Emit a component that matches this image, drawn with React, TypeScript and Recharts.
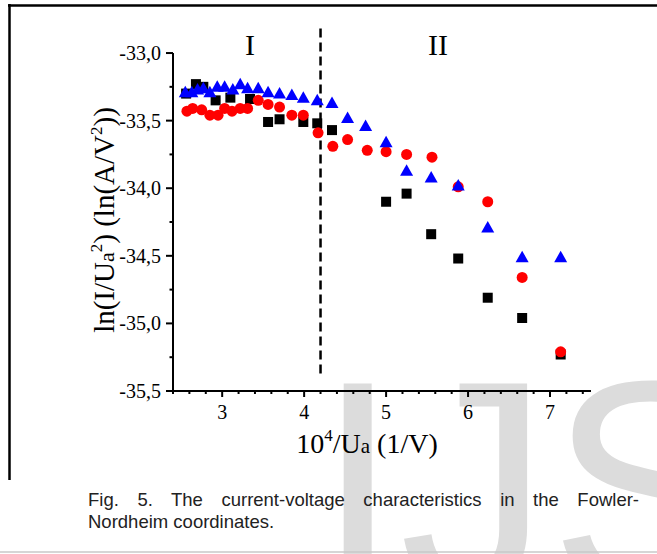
import { ReferenceLine, Scatter, ScatterChart, XAxis, YAxis } from "recharts";

// black squares
const blackX = [2.56, 2.68, 2.77, 2.92, 3.1, 3.34, 3.56, 3.7, 3.99, 4.16, 4.34, 5.0, 5.25, 5.55, 5.88, 6.24, 6.66, 7.13];
const blackY = [-33.3, -33.23, -33.25, -33.35, -33.33, -33.34, -33.51, -33.49, -33.51, -33.52, -33.57, -34.1, -34.04, -34.34, -34.52, -34.81, -34.96, -35.23];

// red circles
const redX = [2.57, 2.64, 2.75, 2.85, 2.95, 3.03, 3.12, 3.22, 3.31, 3.44, 3.56, 3.7, 3.85, 3.99, 4.17, 4.35, 4.53, 4.77, 5.0, 5.25, 5.56, 5.88, 6.24, 6.66, 7.13];
const redY = [-33.43, -33.41, -33.42, -33.46, -33.46, -33.41, -33.43, -33.41, -33.41, -33.35, -33.38, -33.4, -33.46, -33.46, -33.59, -33.69, -33.64, -33.72, -33.73, -33.75, -33.77, -33.99, -34.1, -34.66, -35.21];

// blue triangles
const blueX = [2.55, 2.63, 2.7, 2.77, 2.85, 2.94, 3.03, 3.13, 3.22, 3.31, 3.44, 3.56, 3.7, 3.85, 3.99, 4.16, 4.34, 4.53, 4.75, 5.0, 5.25, 5.55, 5.88, 6.24, 6.66, 7.13];
const blueY = [-33.29, -33.29, -33.27, -33.26, -33.29, -33.25, -33.25, -33.27, -33.23, -33.26, -33.26, -33.29, -33.3, -33.31, -33.33, -33.35, -33.37, -33.48, -33.54, -33.66, -33.87, -33.92, -33.98, -34.29, -34.51, -34.51];

const xTicks = [2.4, 2.6, 2.8, 3, 3.2, 3.4, 3.6, 3.8, 4, 4.2, 4.4, 4.6, 4.8, 5, 5.2, 5.4, 5.6, 5.8, 6, 6.2, 6.4, 6.6, 6.8, 7, 7.2, 7.4];
const yTicks = [-35.5, -35.25, -35, -34.75, -34.5, -34.25, -34, -33.75, -33.5, -33.25, -33];

const SERIF = "'Liberation Serif', 'Times New Roman', serif";
const SANS = "'Liberation Sans', Arial, sans-serif";

const zip = (xs: number[], ys: number[]) => xs.map((x, i) => ({ x, y: ys[i] }));

const square = (p: any) => <rect x={p.cx - 5} y={p.cy - 5} width={10} height={10} fill="#000" />;
const dot = (p: any) => <circle cx={p.cx} cy={p.cy} r={5.5} fill="#ff0000" />;
const tri = (p: any) => (
  <polygon
    points={`${p.cx},${p.cy - 6.5} ${p.cx - 6.5},${p.cy + 5} ${p.cx + 6.5},${p.cy + 5}`}
    fill="#0000ff"
  />
);

function XTick({ x, y, payload }: any) {
  const v = payload.value;
  const major = Math.abs(v - Math.round(v)) < 1e-6;
  return (
    <g>
      <line x1={x} x2={x} y1={y} y2={y + (major ? 6 : 3)} stroke="#000" strokeWidth={2} />
      {major && (
        <text x={x} y={y + 28} textAnchor="middle" fontFamily={SERIF} fontSize={20} fill="#000">
          {v}
        </text>
      )}
    </g>
  );
}

function YTick({ x, y, payload }: any) {
  const v = payload.value;
  const major = Math.abs(v * 2 - Math.round(v * 2)) < 1e-6;
  return (
    <g>
      <line x1={x - (major ? 7 : 3.5)} x2={x} y1={y} y2={y} stroke="#000" strokeWidth={2} />
      {major && (
        <text x={x - 12} y={y + 7} textAnchor="end" fontFamily={SERIF} fontSize={20} fill="#000">
          {v.toFixed(1).replace(".", ",")}
        </text>
      )}
    </g>
  );
}

export default function App() {
  return (
    <div style={{ position: "absolute", left: 0, top: 0, width: 657, height: 554, background: "#fff", overflow: "hidden" }}>
      <svg width={657} height={554} style={{ position: "absolute", left: 0, top: 0 }}>
        <text x={316} y={590} fontFamily={SANS} fontSize={300} fill="#dcdcdc">
          IJS
        </text>
        <line x1={8} x2={657} y1={5.5} y2={5.5} stroke="#000" strokeWidth={2.5} />
        <line x1={9.5} x2={9.5} y1={4} y2={480} stroke="#000" strokeWidth={2.5} />
        <line x1={0} x2={657} y1={552} y2={552} stroke="#c8c8c8" strokeWidth={1.5} />
        <text x={250} y={55} textAnchor="middle" fontFamily={SERIF} fontSize={30}>
          I
        </text>
        <text x={438} y={55} textAnchor="middle" fontFamily={SERIF} fontSize={30}>
          II
        </text>
        <text x={367} y={453} textAnchor="middle" fontFamily={SERIF} fontSize={28}>
          10<tspan fontSize={17} dy={-12}>4</tspan>
          <tspan dy={12}>/U</tspan>
          <tspan fontSize={21}>a</tspan> (1/V)
        </text>
        <text
          transform="translate(114,220) rotate(-90)"
          textAnchor="middle"
          fontFamily={SERIF}
          fontSize={29}
        >
          ln(I/U<tspan fontSize={22}>a</tspan>
          <tspan fontSize={17} dy={-12}>2</tspan>
          <tspan dy={12}>) (ln(A/V</tspan>
          <tspan fontSize={17} dy={-12}>2</tspan>
          <tspan dy={12}>))</tspan>
        </text>
      </svg>
      <div
        style={{
          position: "absolute",
          left: 88,
          top: 489,
          width: 551,
          fontFamily: SANS,
          fontSize: 18.5,
          lineHeight: "22px",
          color: "#222",
        }}
      >
        <div style={{ textAlign: "justify", textAlignLast: "justify" }}>
          Fig. 5. The current-voltage characteristics in the Fowler-
        </div>
        <div>Nordheim coordinates.</div>
      </div>
      <div style={{ position: "absolute", left: 0, top: 0 }}>
        <ScatterChart width={657} height={554} margin={{ top: 26, right: 66, bottom: 162, left: 172 }}>
          <XAxis
            type="number"
            dataKey="x"
            domain={[2.4, 7.5]}
            ticks={xTicks}
            interval={0}
            height={1}
            tickSize={0}
            tickMargin={0}
            tickLine={false}
            tick={XTick}
            axisLine={{ stroke: "#000", strokeWidth: 2 }}
          />
          <YAxis
            type="number"
            dataKey="y"
            domain={[-35.5, -32.8]}
            ticks={yTicks}
            interval={0}
            width={1}
            tickSize={0}
            tickMargin={0}
            tickLine={false}
            tick={YTick}
            axisLine={false}
          />
          <ReferenceLine
            segment={[
              { x: 2.4, y: -35.5 },
              { x: 2.4, y: -33.0 },
            ]}
            stroke="#000"
            strokeWidth={2}
          />
          <ReferenceLine
            segment={[
              { x: 4.2, y: -35.37 },
              { x: 4.2, y: -32.8 },
            ]}
            stroke="#000"
            strokeWidth={2.5}
            strokeDasharray="9 5"
          />
          <Scatter data={zip(blackX, blackY)} shape={square} isAnimationActive={false} />
          <Scatter data={zip(redX, redY)} shape={dot} isAnimationActive={false} />
          <Scatter data={zip(blueX, blueY)} shape={tri} isAnimationActive={false} />
        </ScatterChart>
      </div>
    </div>
  );
}
